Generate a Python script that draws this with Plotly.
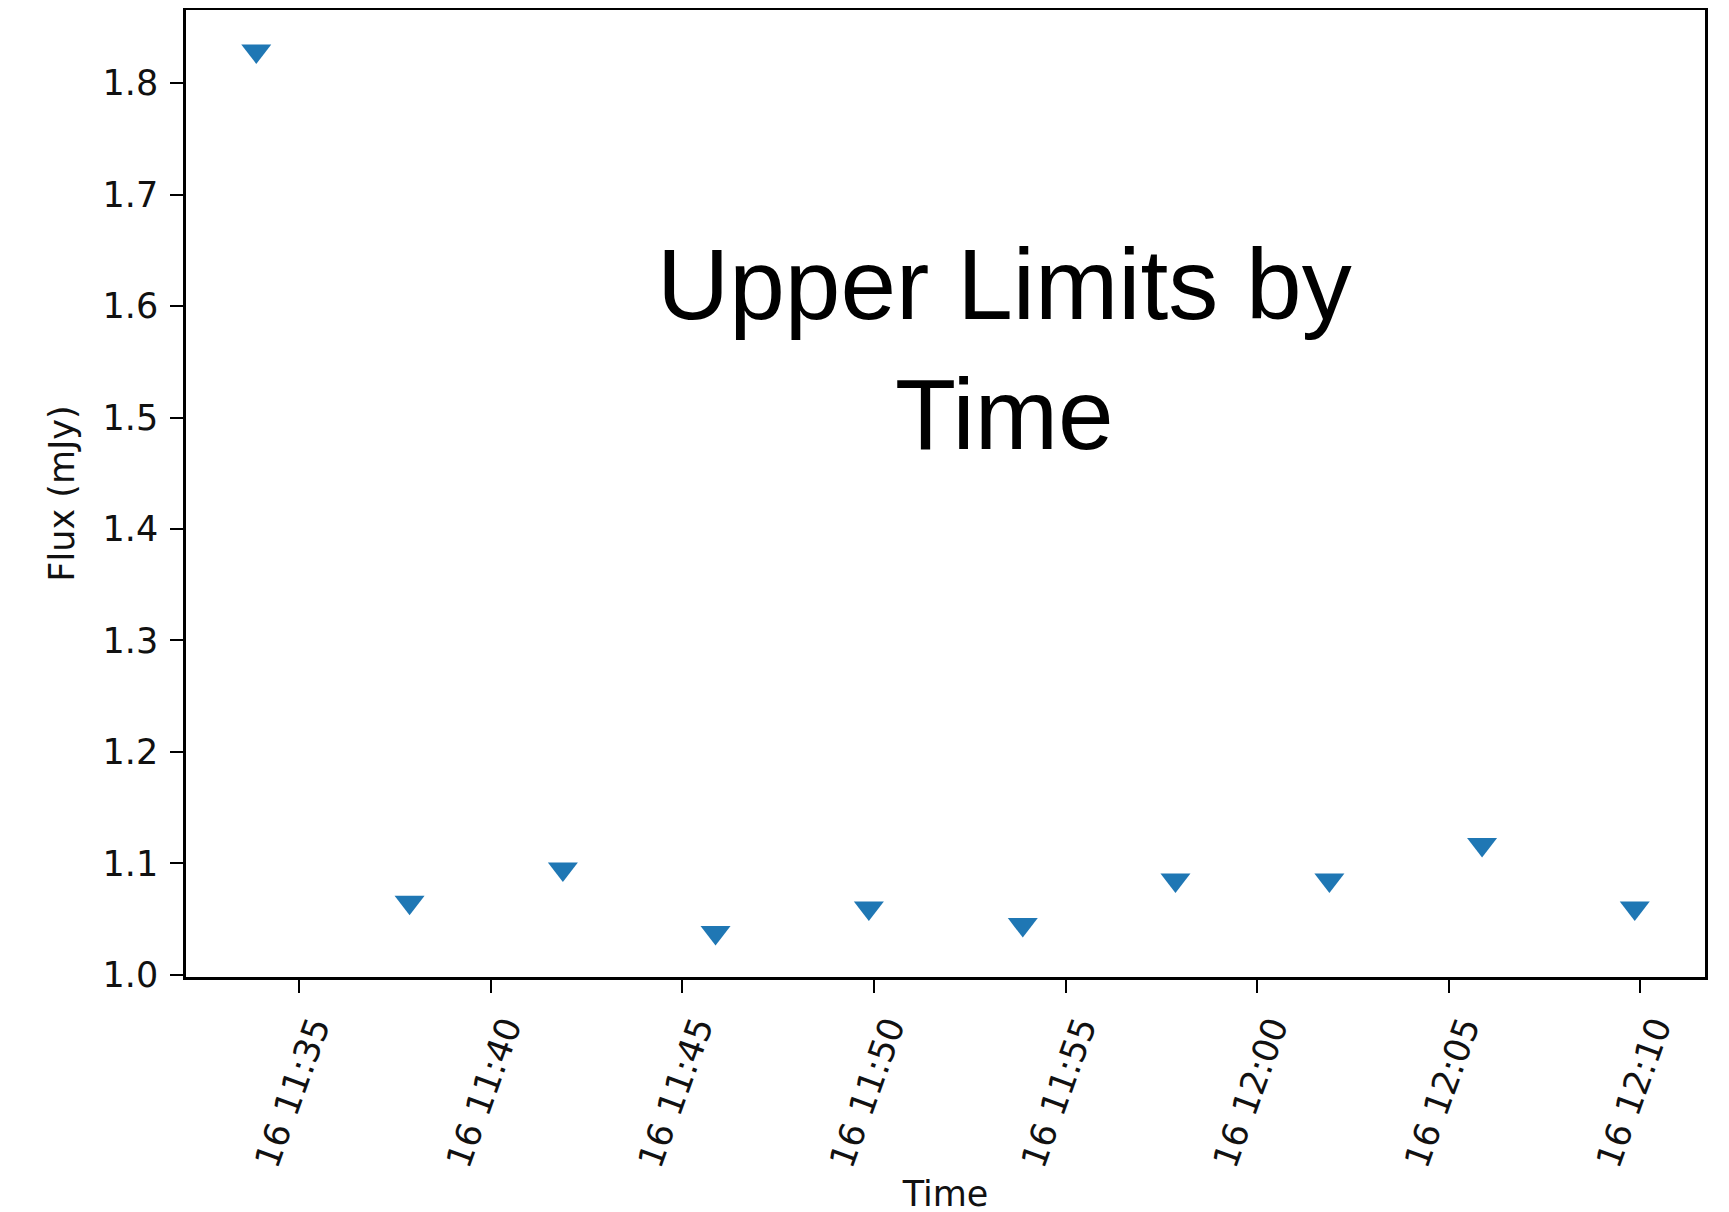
import plotly.graph_objects as go

times = [
    "2019-05-16 11:33:53", "2019-05-16 11:37:53", "2019-05-16 11:41:53",
    "2019-05-16 11:45:52", "2019-05-16 11:49:52", "2019-05-16 11:53:53",
    "2019-05-16 11:57:52", "2019-05-16 12:01:53", "2019-05-16 12:05:52",
    "2019-05-16 12:09:51",
]
flux_upper = [1.829, 1.065, 1.095, 1.038, 1.060, 1.045, 1.085, 1.085, 1.117, 1.060]

x_range = ["2019-05-16 11:32:03", "2019-05-16 12:11:41"]
y_range = [0.998, 1.8657]
y_ticks = [1.0, 1.1, 1.2, 1.3, 1.4, 1.5, 1.6, 1.7, 1.8]

tick_font = dict(family="DejaVu Sans", size=35, color="#111111")

fig = go.Figure()
fig.add_trace(go.Scatter(
    x=times, y=flux_upper, mode="markers",
    marker=dict(symbol="triangle-down", size=26, color="#1f77b4", line=dict(width=0)),
    showlegend=False,
))

# the page body adds an 8px offset, so the figure is sized/margined to compensate
fig.update_layout(
    width=1721, height=1206,
    margin=dict(l=178, r=24, t=2, b=237),
    plot_bgcolor="white", paper_bgcolor="white",
    font=tick_font,
    annotations=[dict(
        text="Upper Limits by<br>Time", xref="paper", yref="paper",
        x=0.539, y=0.649, xanchor="center", yanchor="middle", showarrow=False,
        font=dict(family="Liberation Sans, Arial", size=100, color="black"),
    )],
)
fig.update_xaxes(
    type="date", range=x_range, tick0="2019-05-16 11:35:00", dtick=300000,
    tickformat="%d %H:%M", tickangle=-70, ticks="outside", ticklen=13, tickwidth=2,
    tickcolor="black", showline=True, linecolor="black", linewidth=2.5, mirror=True,
    showgrid=False, zeroline=False, tickfont=tick_font, automargin=False,
    ticklabelshift=15,
    title=dict(text="Time", font=tick_font, standoff=20),
)
fig.update_yaxes(
    range=y_range, tickvals=y_ticks, tickformat=".1f", ticks="outside", ticklen=13,
    tickwidth=2, tickcolor="black", showline=True, linecolor="black", linewidth=2.5,
    mirror=True, showgrid=False, zeroline=False, tickfont=tick_font, automargin=False,
    ticklabelstandoff=5,
    title=dict(text="Flux (mJy)", font=tick_font, standoff=18),
)

fig.write_html("out.html")
